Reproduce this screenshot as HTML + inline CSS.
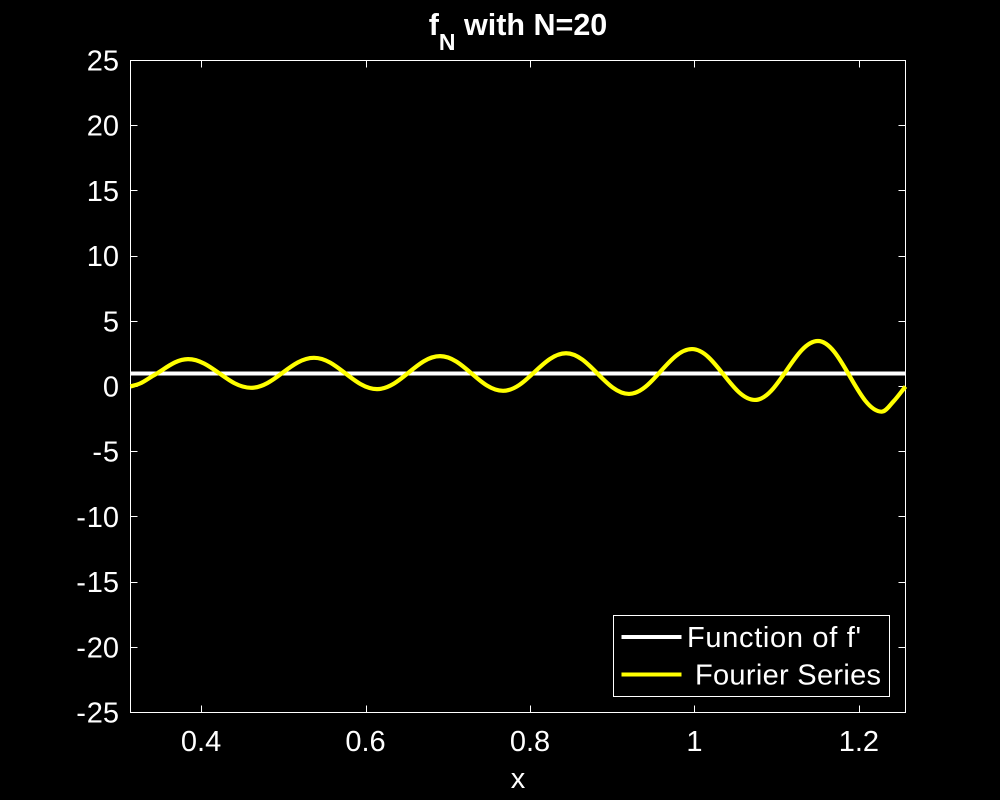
<!DOCTYPE html>
<html>
<head>
<meta charset="utf-8">
<title>f_N with N=20</title>
<style>
html,body{margin:0;padding:0;background:#000;width:1000px;height:800px;overflow:hidden}
svg{display:block}
text{font-family:"Liberation Sans",Arial,sans-serif;fill:#fff}
</style>
</head>
<body>
<svg id="chart" width="1000" height="800" viewBox="0 0 1000 800" xmlns="http://www.w3.org/2000/svg">
  <rect x="0" y="0" width="1000" height="800" fill="#000"/>
  <text x="518" y="35" text-anchor="middle" font-size="30.5" font-weight="bold">f<tspan font-size="23" dy="15">N</tspan><tspan dy="-15"> with N=20</tspan></text>
  <rect x="130.5" y="60.5" width="775" height="652" fill="none" stroke="#fff" stroke-width="1"/>
  <g id="ticks"></g>
  <g id="series"></g>
  <text x="518" y="788" text-anchor="middle" font-size="29">x</text>
  <g>
    <rect x="613.5" y="615.5" width="276" height="81" fill="#000" stroke="#fff" stroke-width="1"/>
    <line x1="621.5" x2="681.5" y1="637" y2="637" stroke="#fff" stroke-width="4"/>
    <text x="687" y="647" font-size="29" textLength="174" lengthAdjust="spacing">Function of f'</text>
    <line x1="621.5" x2="681.5" y1="674.5" y2="674.5" stroke="#ff0" stroke-width="4"/>
    <text x="695" y="684.5" font-size="29" textLength="186" lengthAdjust="spacing">Fourier Series</text>
  </g>
</svg>
<script>
var xDomain = [0.31416, 1.25664];
var yDomain = [-25, 25];
var xTickValues = [0.4, 0.6, 0.8, 1, 1.2];
var xTickLabels = ["0.4", "0.6", "0.8", "1", "1.2"];
var yTickValues = [-25, -20, -15, -10, -5, 0, 5, 10, 15, 20, 25];
var yTickLabels = ["-25", "-20", "-15", "-10", "-5", "0", "5", "10", "15", "20", "25"];
var functionX = [0.31416, 1.25664];
var functionY = [1, 1];
var fourierX = [0.31416, 0.3260, 0.3420, 0.3841, 0.4607, 0.5373, 0.6140, 0.6906, 0.7672, 0.8438, 0.9204, 0.9970, 1.0736, 1.1502, 1.2277, 1.2418, 1.25664];
var fourierY = [0, 0.24, 0.84, 2.1, -0.1, 2.2, -0.2, 2.33, -0.33, 2.55, -0.57, 2.87, -1.03, 3.49, -1.93, -1.16, 0];

var plotLeft = 130.5, plotRight = 905.5, plotTop = 60.5, plotBottom = 712.5, tickLength = 7;
var svgNS = "http://www.w3.org/2000/svg";
function xScale(v) { return plotLeft + (v - xDomain[0]) / (xDomain[1] - xDomain[0]) * (plotRight - plotLeft); }
function yScale(v) { return plotBottom - (v - yDomain[0]) / (yDomain[1] - yDomain[0]) * (plotBottom - plotTop); }

var ticksGroup = document.getElementById("ticks");
var seriesGroup = document.getElementById("series");

function tickPath(d) {
  var p = document.createElementNS(svgNS, "path");
  p.setAttribute("d", d);
  p.setAttribute("stroke", "#fff");
  p.setAttribute("stroke-width", "1");
  p.setAttribute("fill", "none");
  return p;
}

xTickValues.forEach(function (v, i) {
  var x = Math.round(xScale(v)) + 0.5;
  var mark = tickPath("M" + x + " " + plotBottom + "V" + (plotBottom - tickLength) + "M" + x + " " + plotTop + "V" + (plotTop + tickLength));
  
  
  ticksGroup.appendChild(mark);
  var label = document.createElementNS(svgNS, "text");
  
  
  label.setAttribute("x", xScale(v));
  label.setAttribute("y", 751);
  label.setAttribute("text-anchor", "middle");
  label.setAttribute("font-size", "29");
  label.textContent = xTickLabels[i];
  ticksGroup.appendChild(label);
});

yTickValues.forEach(function (v, i) {
  var y = Math.round(yScale(v) - 0.5) + 0.5;
  var mark = tickPath("M" + plotLeft + " " + y + "H" + (plotLeft + tickLength) + "M" + plotRight + " " + y + "H" + (plotRight - tickLength));
  
  
  ticksGroup.appendChild(mark);
  var label = document.createElementNS(svgNS, "text");
  
  
  label.setAttribute("x", 119);
  label.setAttribute("y", yScale(v) + 10);
  label.setAttribute("text-anchor", "end");
  label.setAttribute("font-size", "29");
  if (v < 0) {
    var sign = document.createElementNS(svgNS, "tspan");
    
    
    sign.setAttribute("letter-spacing", "0.8");
    sign.textContent = yTickLabels[i].slice(0, 1);
    label.appendChild(sign);
    label.appendChild(document.createTextNode(yTickLabels[i].slice(1)));
  } else {
    label.textContent = yTickLabels[i];
  }
  ticksGroup.appendChild(label);
});

/* Smooth curve through the read points: horizontal tangents at local extrema,
   three-point derivative elsewhere. Handles at extrema follow a cosine arc. */
function smoothPath(xs, ys) {
  var px = xs.map(xScale), py = ys.map(yScale), n = px.length, m = [], ext = [];
  for (var i = 0; i < n; i++) {
    ext.push(false);
    if (i === 0) { m.push((py[1] - py[0]) / (px[1] - px[0])); continue; }
    if (i === n - 1) { m.push((py[i] - py[i - 1]) / (px[i] - px[i - 1])); continue; }
    var s0 = (py[i] - py[i - 1]) / (px[i] - px[i - 1]);
    var s1 = (py[i + 1] - py[i]) / (px[i + 1] - px[i]);
    if (s0 * s1 <= 0) { m.push(0); ext[i] = true; continue; }
    var h0 = px[i] - px[i - 1], h1 = px[i + 1] - px[i];
    m.push((s0 * h1 + s1 * h0) / (h0 + h1));
  }
  var d = "M" + px[0].toFixed(2) + " " + py[0].toFixed(2);
  for (var j = 0; j < n - 1; j++) {
    var h = px[j + 1] - px[j];
    var k1 = ext[j] ? 0.3642 : 1 / 3, k2 = ext[j + 1] ? 0.3642 : 1 / 3;
    var c1x = px[j] + k1 * h, c1y = py[j] + m[j] * k1 * h;
    var c2x = px[j + 1] - k2 * h, c2y = py[j + 1] - m[j + 1] * k2 * h;
    d += "C" + c1x.toFixed(2) + " " + c1y.toFixed(2) + " " + c2x.toFixed(2) + " " + c2y.toFixed(2) + " " + px[j + 1].toFixed(2) + " " + py[j + 1].toFixed(2);
  }
  return d;
}

var functionLine = document.createElementNS(svgNS, "path");


functionLine.setAttribute("d", smoothPath(functionX, functionY));
functionLine.setAttribute("stroke", "#fff");
functionLine.setAttribute("stroke-width", "4");
functionLine.setAttribute("fill", "none");
seriesGroup.appendChild(functionLine);

var fourierLine = document.createElementNS(svgNS, "path");


fourierLine.setAttribute("d", smoothPath(fourierX, fourierY));
fourierLine.setAttribute("stroke", "#ff0");
fourierLine.setAttribute("stroke-width", "4.2");
fourierLine.setAttribute("fill", "none");
seriesGroup.appendChild(fourierLine);
</script>
</body>
</html>
